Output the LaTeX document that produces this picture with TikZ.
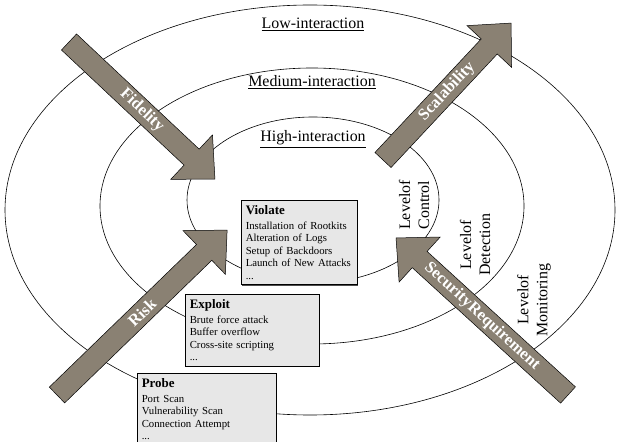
\documentclass[tikz,border=0pt]{standalone}
\usepackage{fontspec}
\setmainfont{Liberation Serif}
\usetikzlibrary{shapes.geometric,shadows}

\definecolor{arrowgray}{RGB}{138,129,115}
\definecolor{boxgray}{RGB}{231,231,231}

% #1 name, #2 tail, #3 angle, #4 length, #5 text angle, #6 label
\newcommand{\drawblockarrow}[6]{%
  \begin{scope}[shift={#2}, rotate=#3]
    \draw[arrowbody] (0,-11) -- ({#4-32},-11) -- ({#4-32},-30.5) -- (#4,0)
      -- ({#4-32},30.5) -- ({#4-32},11) -- (0,11) -- cycle;
    \node[arrowlabel, rotate=#5] (#1) at ({#4/2},0) {#6};
  \end{scope}}
\newcommand{\boxhead}[1]{{\fontsize{13}{12.5}\selectfont\bfseries #1}\\[2bp]}

\begin{document}
\begin{tikzpicture}[x=1bp, y=-1bp,
  ring/.style={draw, ellipse, inner sep=0pt, line width=0.6pt},
  ringlabel/.style={font=\fontsize{16}{19}\selectfont, anchor=base},
  levellabel/.style={font=\fontsize{16}{19}\selectfont, rotate=90, align=center},
  arrowbody/.style={draw=black, line width=0.5pt, fill=arrowgray, line join=miter},
  arrowlabel/.style={font=\fontsize{16.5}{18}\selectfont\bfseries, text=white, inner sep=0pt},
  attackbox/.style={draw, line width=0.5pt, fill=boxgray, anchor=north west, align=left,
    inner xsep=4.5bp, inner ysep=5.5bp, font=\fontsize{10.8}{12.5}\selectfont,
    execute at begin node={\hyphenpenalty=10000\relax},
    drop shadow={shadow xshift=1.2bp, shadow yshift=-1.2bp, fill=black!70, opacity=1}}]
  \useasboundingbox (0,0) rectangle (619,442);

  % interaction rings
  \node[ring, minimum width=610bp, minimum height=410bp] (low) at (310,210) {};
  \node[ring, minimum width=424bp, minimum height=276bp] (medium) at (312,206) {};
  \node[ring, minimum width=252bp, minimum height=166bp] (high) at (313,200) {};

  \node[ringlabel] (lowlab) at (313,29) {\underline{Low-interaction}};
  \node[ringlabel] (mediumlab) at (312,87) {\underline{Medium-interaction}};
  \node[ringlabel] (highlab) at (313,142) {\underline{High-interaction}};

  \node[levellabel] (control) at (414,205) {Levelof\\Control};
  \node[levellabel] (detection) at (475,245) {Levelof\\Detection};
  \node[levellabel] (monitoring) at (534,300) {Levelof\\Monitoring};

  % block arrows
  \drawblockarrow{fidelity}{(69,42)}{-43.2}{200.2}{-43.2}{Fidelity}
  \drawblockarrow{scalability}{(383,160)}{46.9}{187.5}{46.9}{Scalability}
  \drawblockarrow{risk}{(57,395)}{44.1}{236.9}{44.1}{Risk}
  \drawblockarrow{secreq}{(568,395)}{137.6}{232.9}{-42.4}{SecurityRequirement}

  % attack stages
  \node[attackbox, text width=107bp] (violate) at (241,200) {\boxhead{Violate}
    Installation of Rootkits\\ Alteration of Logs\\ Setup of Backdoors\\
    Launch of New Attacks\\ ...};
  \node[attackbox, text width=125bp] (exploit) at (185,294) {\boxhead{Exploit}
    Brute force attack\\ Buffer overflow\\ Cross-site scripting\\ ...};
  \node[attackbox, text width=130bp] (probe) at (137,373) {\boxhead{Probe}
    Port Scan\\ Vulnerability Scan\\ Connection Attempt\\ ...};
\end{tikzpicture}
\end{document}
